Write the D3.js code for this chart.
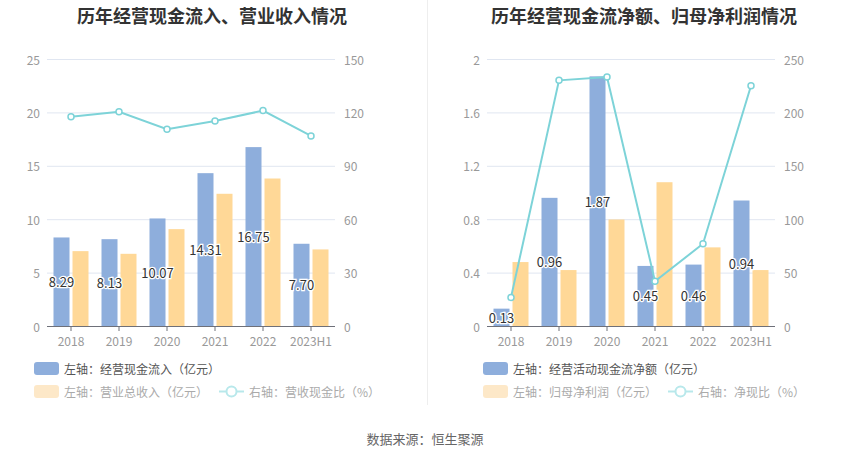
<!DOCTYPE html>
<html><head><meta charset="utf-8">
<script src="https://cdn.jsdelivr.net/npm/d3@7/dist/d3.min.js"></script>
<style>body{margin:0;background:#fff;}svg{display:block;font-family:"Microsoft YaHei","Noto Sans CJK SC",sans-serif;}</style>
</head><body><svg id="c" width="850" height="459"></svg>
<script>
const categories = ["2018","2019","2020","2021","2022","2023H1"];
// Left chart
const cashInflow = [8.29, 8.13, 10.07, 14.31, 16.75, 7.70];
const revenue = [7.01, 6.76, 9.07, 12.38, 13.81, 7.17];
const cashRatio = [117.6, 120.3, 110.5, 115.2, 121.0, 106.8];
const leftTicksL = [0, 5, 10, 15, 20, 25];
const leftTicksR = [0, 30, 60, 90, 120, 150];
// Right chart
const netCashFlow = [0.13, 0.96, 1.87, 0.45, 0.46, 0.94];
const netProfit = [0.479, 0.419, 0.798, 1.077, 0.589, 0.419];
const netRatio = [26.8, 230, 233.2, 41.8, 77, 225];
const rightTicksL = [0, 0.4, 0.8, 1.2, 1.6, 2];
const rightTicksR = [0, 50, 100, 150, 200, 250];

const C_BLUE = "#8eaedc", C_ORANGE = "#ffd897", C_LINE = "#7dd3d8";
const svg = d3.select("#c");

function panel(o) {
  const g = svg.append("g");
  const top = 59, bottom = 326;
  const x = d3.scaleBand().domain(categories).range([o.x0, o.x1]);
  const yL = d3.scaleLinear().domain([o.ticksL[0], o.ticksL[o.ticksL.length-1]]).range([bottom, top]);
  const yR = d3.scaleLinear().domain([o.ticksR[0], o.ticksR[o.ticksR.length-1]]).range([bottom, top]);
  // title
  g.append("text").attr("x", o.titleX).attr("y", 15).attr("text-anchor","middle").attr("dominant-baseline","central")
    .attr("font-size", 18).attr("font-weight","bold").attr("fill","#333").text(o.title);
  // grid
  g.selectAll("line.grid").data(o.ticksL.slice(1)).enter().append("line")
    .attr("x1", o.x0).attr("x2", o.x1).attr("y1", d=>yL(d)+0.5).attr("y2", d=>yL(d)+0.5)
    .attr("stroke","#e0e6f1");
  // left labels
  g.selectAll("text.yl").data(o.ticksL).enter().append("text")
    .attr("x", o.x0 - 7).attr("y", d=>yL(d)).attr("text-anchor","end").attr("dominant-baseline","central")
    .attr("font-size",12).attr("fill","#999").text(d=>d);
  g.selectAll("text.yr").data(o.ticksR).enter().append("text")
    .attr("x", o.x1 + 9).attr("y", d=>yR(d)).attr("text-anchor","start").attr("dominant-baseline","central")
    .attr("font-size",12).attr("fill","#999").text(d=>d);
  // bars
  const bw = 16, gap = 3;
  g.selectAll("rect.b1").data(o.bar1).enter().append("rect")
    .attr("x",(d,i)=>x(categories[i]) + x.bandwidth()/2 - gap/2 - bw)
    .attr("y", d=>yL(d)).attr("width",bw).attr("height",d=>bottom-yL(d)).attr("fill",C_BLUE);
  g.selectAll("rect.b2").data(o.bar2).enter().append("rect")
    .attr("x",(d,i)=>x(categories[i]) + x.bandwidth()/2 + gap/2)
    .attr("y", d=>yL(d)).attr("width",bw).attr("height",d=>bottom-yL(d)).attr("fill",C_ORANGE);
  // axis baseline
  g.append("line").attr("x1",o.x0).attr("x2",o.x1).attr("y1",bottom+0.5).attr("y2",bottom+0.5).attr("stroke","#6e7079");
  g.selectAll("line.tk").data(categories).enter().append("line")
    .attr("x1",d=>x(d)+x.bandwidth()/2).attr("x2",d=>x(d)+x.bandwidth()/2)
    .attr("y1",bottom).attr("y2",bottom+5).attr("stroke","#6e7079");
  g.selectAll("text.xl").data(categories).enter().append("text")
    .attr("x",d=>x(d)+x.bandwidth()/2).attr("y",340).attr("text-anchor","middle").attr("dominant-baseline","central")
    .attr("font-size",12).attr("fill","#999").text(d=>d);
  // line
  const cx = (d,i)=>x(categories[i]) + x.bandwidth()/2;
  g.append("path").datum(o.line).attr("fill","none").attr("stroke",C_LINE).attr("stroke-width",2)
    .attr("d", d3.line().x(cx).y(d=>yR(d)));
  g.selectAll("circle.pt").data(o.line).enter().append("circle")
    .attr("cx",cx).attr("cy",d=>yR(d)).attr("r",3).attr("fill","#fff").attr("stroke",C_LINE).attr("stroke-width",1.5);
  // bar labels
  g.selectAll("text.lb").data(o.bar1).enter().append("text")
    .attr("x",(d,i)=>x(categories[i]) + x.bandwidth()/2 - gap/2 - bw/2)
    .attr("y",d=>(yL(d)+bottom)/2).attr("text-anchor","middle").attr("dominant-baseline","central")
    .attr("font-size",13).attr("fill","#333").attr("stroke","#fff").attr("stroke-width",2.5)
    .attr("paint-order","stroke").text(d=>d.toFixed(2));
  // legend
  const L = o.legend;
  g.append("rect").attr("x",L.x).attr("y",362).attr("width",25).attr("height",13).attr("rx",3).attr("fill",C_BLUE);
  g.append("text").attr("x",L.x+30).attr("y",368.5).attr("dominant-baseline","central").attr("font-size",12).attr("fill","#555").text(L.t1);
  g.append("rect").attr("x",L.x).attr("y",385).attr("width",25).attr("height",13).attr("rx",3).attr("fill","#fde8c8");
  g.append("text").attr("x",L.x+30).attr("y",391.5).attr("dominant-baseline","central").attr("font-size",12).attr("fill","#aaa").text(L.t2);
  g.append("line").attr("x1",L.lx).attr("x2",L.lx+25).attr("y1",391.5).attr("y2",391.5).attr("stroke","#b8e8eb").attr("stroke-width",2);
  g.append("circle").attr("cx",L.lx+12.5).attr("cy",391.5).attr("r",5).attr("fill","#fff").attr("stroke","#b8e8eb").attr("stroke-width",2);
  g.append("text").attr("x",L.lx+30).attr("y",391.5).attr("dominant-baseline","central").attr("font-size",12).attr("fill","#aaa").text(L.t3);
}

panel({x0:47, x1:335, titleX:212, title:"历年经营现金流入、营业收入情况",
  ticksL:leftTicksL, ticksR:leftTicksR, bar1:cashInflow, bar2:revenue, line:cashRatio,
  legend:{x:34, lx:219, t1:"左轴：经营现金流入（亿元）", t2:"左轴：营业总收入（亿元）", t3:"右轴：营收现金比（%）"}});
panel({x0:487, x1:775, titleX:644, title:"历年经营现金流净额、归母净利润情况",
  ticksL:rightTicksL, ticksR:rightTicksR, bar1:netCashFlow, bar2:netProfit, line:netRatio,
  legend:{x:483, lx:668, t1:"左轴：经营活动现金流净额（亿元）", t2:"左轴：归母净利润（亿元）", t3:"右轴：净现比（%）"}});

svg.append("line").attr("x1",427.5).attr("x2",427.5).attr("y1",0).attr("y2",405).attr("stroke","#eee");
svg.append("text").attr("x",425).attr("y",438).attr("text-anchor","middle").attr("dominant-baseline","central")
  .attr("font-size",13).attr("fill","#666").text("数据来源：恒生聚源");
</script></body></html>
